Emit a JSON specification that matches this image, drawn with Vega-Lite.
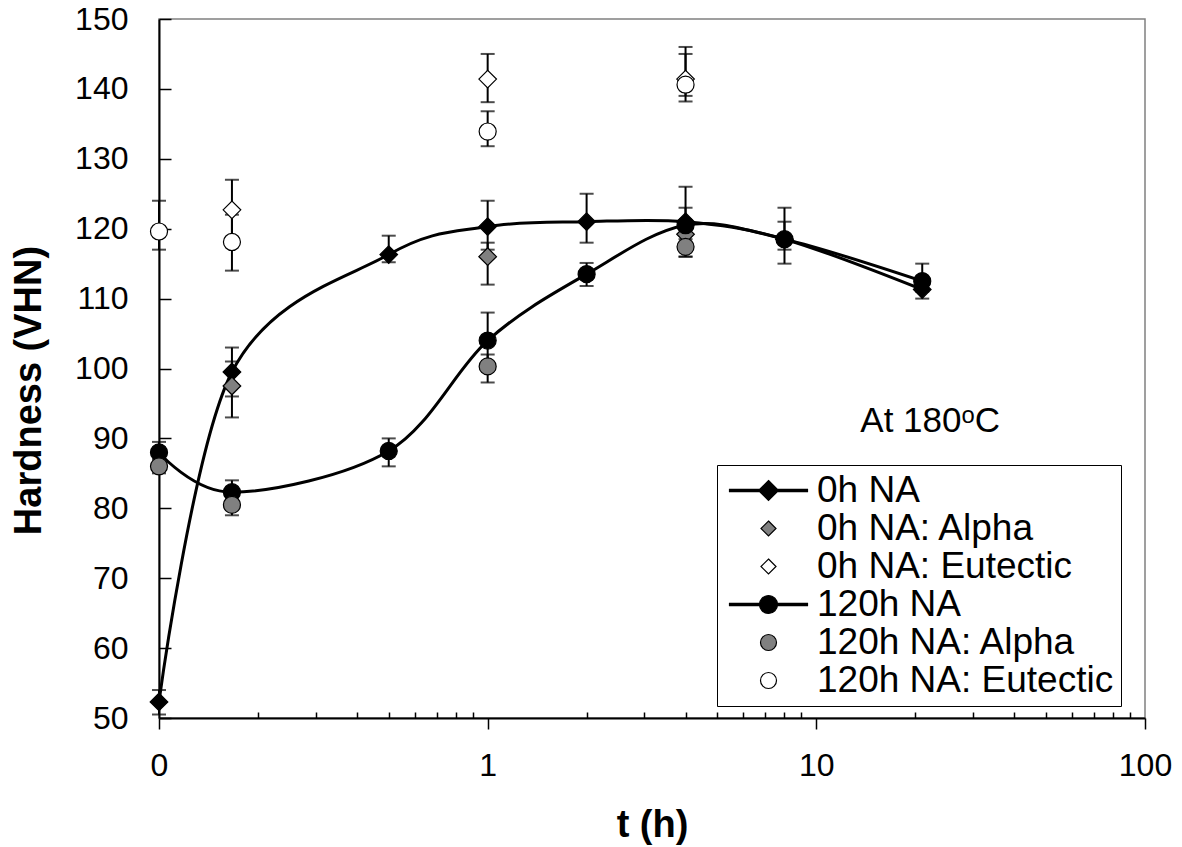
{
  "$schema": "https://vega.github.io/schema/vega-lite/v6.json",
  "width": 986,
  "height": 699,
  "autosize": {"type": "none"},
  "padding": {"left": 159, "top": 19, "right": 37, "bottom": 129},
  "background": "white",
  "config": {
    "view": {"stroke": "#808080", "strokeWidth": 1.5},
    "font": "Liberation Sans",
    "legend": {
      "title": null,
      "orient": "none",
      "legendX": 558,
      "legendY": 446,
      "direction": "vertical",
      "strokeColor": "black",
      "fillColor": "white",
      "padding": 7,
      "labelFont": "Liberation Sans",
      "labelFontSize": 37,
      "labelColor": "black",
      "labelLimit": 600,
      "symbolSize": 100,
      "symbolOffset": 26,
      "labelOffset": 30,
      "rowPadding": 0,
      "symbolStrokeColor": "black",
      "symbolStrokeWidth": 1.2,
      "symbolOpacity": 1
    }
  },
  "datasets": {
    "pts": [
      {"series": "0h NA", "t": 0.1, "h": 52.3, "lo": 50.5, "hi": 54},
      {"series": "0h NA", "t": 0.1667, "h": 99.5, "lo": 96, "hi": 103},
      {"series": "0h NA", "t": 0.5, "h": 116.3, "lo": 115.2, "hi": 119},
      {"series": "0h NA", "t": 1, "h": 120.3, "lo": 117, "hi": 124},
      {"series": "0h NA", "t": 2, "h": 121, "lo": 118, "hi": 125},
      {"series": "0h NA", "t": 4, "h": 121, "lo": 116, "hi": 126},
      {"series": "0h NA", "t": 8, "h": 118.5, "lo": 115, "hi": 123},
      {"series": "0h NA", "t": 21, "h": 111.3, "lo": 110, "hi": 113},
      {"series": "0h NA: Alpha", "t": 0.1667, "h": 97.5, "lo": 93, "hi": 101},
      {"series": "0h NA: Alpha", "t": 1, "h": 116, "lo": 112, "hi": 118},
      {"series": "0h NA: Alpha", "t": 4, "h": 119.2, "lo": 118.5, "hi": 120},
      {"series": "0h NA: Eutectic", "t": 0.1667, "h": 122.7, "lo": 118.5, "hi": 127},
      {"series": "0h NA: Eutectic", "t": 1, "h": 141.4, "lo": 138.1, "hi": 145},
      {"series": "0h NA: Eutectic", "t": 4, "h": 141.4, "lo": 138.2, "hi": 146},
      {"series": "120h NA", "t": 0.1, "h": 88, "lo": 86.5, "hi": 89.5},
      {"series": "120h NA", "t": 0.1667, "h": 82.3, "lo": 80.5, "hi": 84},
      {"series": "120h NA", "t": 0.5, "h": 88.2, "lo": 86, "hi": 90},
      {"series": "120h NA", "t": 1, "h": 104, "lo": 100, "hi": 108},
      {"series": "120h NA", "t": 2, "h": 113.5, "lo": 111.8, "hi": 115.1},
      {"series": "120h NA", "t": 4, "h": 120.5, "lo": 118, "hi": 123},
      {"series": "120h NA", "t": 8, "h": 118.5, "lo": 117, "hi": 121},
      {"series": "120h NA", "t": 21, "h": 112.5, "lo": 111, "hi": 115},
      {"series": "120h NA: Alpha", "t": 0.1, "h": 86, "lo": 85, "hi": 87},
      {"series": "120h NA: Alpha", "t": 0.1667, "h": 80.5, "lo": 79, "hi": 82},
      {"series": "120h NA: Alpha", "t": 1, "h": 100.3, "lo": 98, "hi": 102},
      {"series": "120h NA: Alpha", "t": 4, "h": 117.4, "lo": 116, "hi": 119},
      {"series": "120h NA: Eutectic", "t": 0.1, "h": 119.6, "lo": 117, "hi": 124},
      {"series": "120h NA: Eutectic", "t": 0.1667, "h": 118.1, "lo": 114, "hi": 122},
      {"series": "120h NA: Eutectic", "t": 1, "h": 133.9, "lo": 131.8, "hi": 136.8},
      {"series": "120h NA: Eutectic", "t": 4, "h": 140.6, "lo": 139, "hi": 145}
    ]
  },
  "layer": [
    {
      "data": {"name": "pts"},
      "mark": {
        "type": "errorbar",
        "color": "black",
        "ticks": {"size": 14, "thickness": 2, "color": "black"},
        "rule": {"strokeWidth": 2, "color": "black"}
      },
      "encoding": {
        "x": {
          "field": "t",
          "type": "quantitative",
          "scale": {"type": "log", "domain": [0.1, 100], "nice": false},
          "axis": {
            "title": "t (h)",
            "titleFont": "Liberation Sans",
            "titleFontSize": 38,
            "titleFontWeight": "bold",
            "titleColor": "black",
            "titleX": 493,
            "titleY": 107,
            "titleAlign": "center",
            "titleBaseline": "middle",
            "values": [0.1, 0.2, 0.3, 0.4, 0.5, 0.6, 0.7, 0.8, 0.9, 1, 2, 3, 4, 5, 6, 7, 8, 9, 10, 20, 30, 40, 50, 60, 70, 80, 90, 100],
            "format": "d",
            "labelExpr": "datum.value == 0.1 ? '0' : (datum.value == 1 || datum.value == 10 || datum.value == 100) ? datum.label : ''",
            "labelFont": "Liberation Sans",
            "labelFontSize": 32,
            "labelColor": "black",
            "labelPadding": 21,
            "labelOverlap": false,
            "labelFlush": false,
            "labelBound": false,
            "tickColor": "black",
            "tickWidth": 1.5,
            "tickSize": {"condition": {"test": "datum.value == 0.1 || datum.value == 1 || datum.value == 10 || datum.value == 100", "value": 11}, "value": -6},
            "domainColor": "black",
            "domainWidth": 2,
            "grid": false
          }
        },
        "y": {
          "field": "lo",
          "type": "quantitative",
          "scale": {"domain": [50, 150], "nice": false, "zero": false},
          "axis": {
            "title": "Hardness (VHN)",
            "titleFont": "Liberation Sans",
            "titleFontSize": 38,
            "titleFontWeight": "bold",
            "titleColor": "black",
            "titleAngle": -90,
            "titleX": -130,
            "titleY": 371,
            "titleAlign": "center",
            "titleBaseline": "middle",
            "values": [50, 60, 70, 80, 90, 100, 110, 120, 130, 140, 150],
            "labelFont": "Liberation Sans",
            "labelFontSize": 32,
            "labelColor": "black",
            "labelPadding": 43,
            "tickColor": "black",
            "tickWidth": 1.5,
            "tickSize": -12,
            "domainColor": "black",
            "domainWidth": 2,
            "grid": false
          }
        },
        "y2": {"field": "hi"}
      }
    },
    {
      "data": {"name": "pts"},
      "transform": [{"filter": "datum.series === '0h NA' || datum.series === '120h NA'"}],
      "mark": {"type": "line", "interpolate": "cardinal", "color": "black", "strokeWidth": 3},
      "encoding": {
        "x": {"field": "t", "type": "quantitative"},
        "y": {"field": "h", "type": "quantitative"},
        "detail": {"field": "series", "type": "nominal"}
      }
    },
    {
      "data": {"name": "pts"},
      "transform": [{"filter": "indexof(datum.series, '0h NA') === 0"}],
      "mark": {"type": "point", "shape": "diamond", "filled": true, "stroke": "black", "strokeWidth": 1.2, "size": 310, "opacity": 1},
      "encoding": {
        "x": {"field": "t", "type": "quantitative"},
        "y": {"field": "h", "type": "quantitative"},
        "fill": {
          "field": "series",
          "type": "nominal",
          "scale": {
            "domain": ["0h NA", "0h NA: Alpha", "0h NA: Eutectic", "120h NA", "120h NA: Alpha", "120h NA: Eutectic"],
            "range": ["black", "#808080", "white", "black", "#808080", "white"]
          },
          "legend": {
            "encoding": {
              "symbols": {
                "size": {"value": 100},
                "stroke": {"value": "black"},
                "strokeWidth": {"value": 1.2}
              }
            }
          }
        }
      }
    },
    {
      "data": {"name": "pts"},
      "transform": [{"filter": "indexof(datum.series, '120h NA') === 0"}],
      "mark": {"type": "point", "shape": "circle", "filled": true, "stroke": "black", "strokeWidth": 1.2, "size": 290, "opacity": 1},
      "encoding": {
        "x": {"field": "t", "type": "quantitative"},
        "y": {"field": "h", "type": "quantitative"},
        "fill": {"field": "series", "type": "nominal"}
      }
    },
    {
      "data": {"name": "pts"},
      "mark": {"type": "point", "filled": true, "opacity": 0, "size": 100},
      "encoding": {
        "x": {"field": "t", "type": "quantitative"},
        "y": {"field": "h", "type": "quantitative"},
        "fill": {"field": "series", "type": "nominal"},
        "shape": {
          "field": "series",
          "type": "nominal",
          "scale": {
            "domain": ["0h NA", "0h NA: Alpha", "0h NA: Eutectic", "120h NA", "120h NA: Alpha", "120h NA: Eutectic"],
            "range": [
              "M-7.8,-0.24H7.8V0.24H-7.8ZM0,-2L2,0L0,2L-2,0Z",
              "M0,-1.5L1.5,0L0,1.5L-1.5,0Z",
              "M0,-1.5L1.5,0L0,1.5L-1.5,0Z",
              "M-7.8,-0.24H7.8V0.24H-7.8ZM-1.8,0A1.8,1.8 0 1,1 1.8,0A1.8,1.8 0 1,1 -1.8,0Z",
              "M-1.6,0A1.6,1.6 0 1,1 1.6,0A1.6,1.6 0 1,1 -1.6,0Z",
              "M-1.6,0A1.6,1.6 0 1,1 1.6,0A1.6,1.6 0 1,1 -1.6,0Z"
            ]
          },
          "legend": {
            "encoding": {
              "symbols": {
                "size": {"value": 100},
                "stroke": {"value": "black"},
                "strokeWidth": {"value": 1.2}
              }
            }
          }
        }
      }
    },
    {
      "data": {"values": [{"t": 22.2, "h": 92.5, "label": "At 180ᵒC"}]},
      "mark": {"type": "text", "font": "Liberation Sans", "fontSize": 35, "color": "black", "align": "center", "baseline": "middle"},
      "encoding": {
        "x": {"field": "t", "type": "quantitative"},
        "y": {"field": "h", "type": "quantitative"},
        "text": {"field": "label", "type": "nominal"}
      }
    }
  ]
}
